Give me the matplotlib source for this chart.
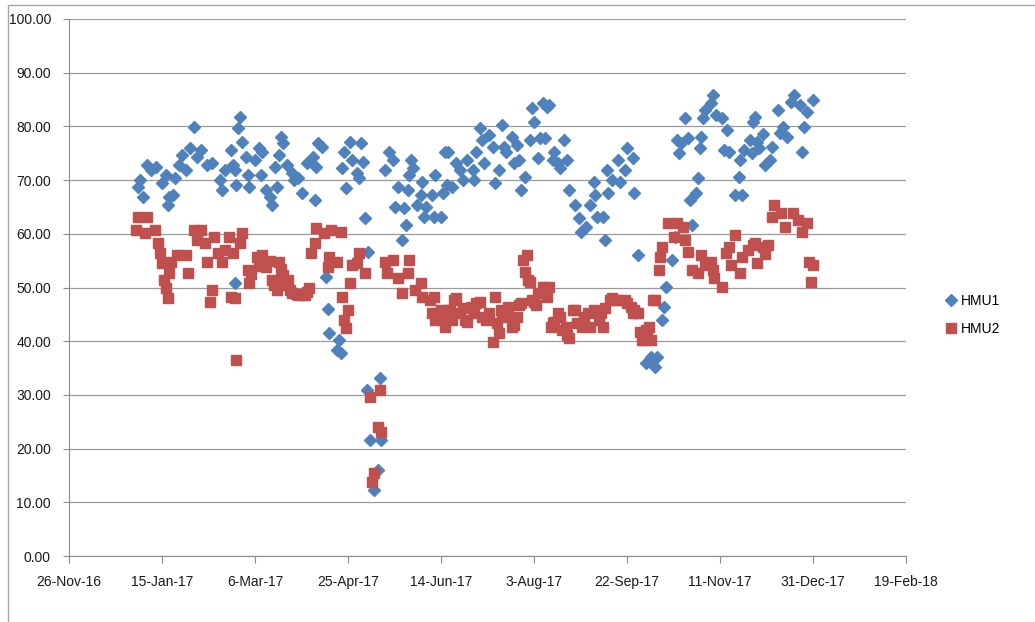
import datetime as dt

import numpy as np
import matplotlib
matplotlib.use('Agg')
import matplotlib.pyplot as plt
import matplotlib.dates as mdates
from matplotlib.patches import Rectangle
from matplotlib.ticker import FuncFormatter, MultipleLocator

# day offsets from 1-Jan-2017 and readings
hmu1_days = [1, 2, 4, 6, 8, 11, 14, 16, 17, 18, 20, 21, 23, 25, 27, 29, 31, 33, 35, 38,
             41, 45, 46, 48, 51, 52, 53, 53, 54, 55, 56, 57, 59, 60, 61, 64, 66, 67, 68, 70,
             72, 73, 75, 76, 77, 78, 79, 81, 84, 85, 87, 89, 92, 95, 96, 97, 98, 100, 102, 103,
             104, 108, 109, 110, 111, 112, 113, 115, 116, 119, 120, 121, 122, 123, 124, 125, 126, 128, 130, 131,
             132, 134, 136, 138, 139, 141, 143, 144, 145, 146, 147, 148, 149, 151, 153, 154, 155, 156, 159, 160,
             161, 164, 165, 166, 167, 168, 170, 172, 174, 176, 178, 181, 182, 183, 185, 186, 187, 190, 192, 193,
             195, 197, 198, 199, 202, 203, 205, 206, 207, 209, 212, 213, 214, 216, 217, 219, 220, 221, 222, 224,
             225, 227, 228, 230, 232, 233, 236, 238, 239, 242, 244, 246, 247, 248, 251, 252, 253, 254, 256, 259,
             260, 263, 264, 267, 268, 270, 274, 277, 279, 280, 283, 284, 285, 288, 290, 291, 292, 293, 295, 297,
             298, 299, 301, 302, 303, 304, 305, 306, 309, 310, 312, 315, 316, 318, 319, 322, 324, 325, 326, 327,
             330, 331, 332, 333, 334, 335, 337, 338, 341, 342, 345, 346, 348, 350, 352, 354, 357, 358, 359, 361,
             364]
hmu1_vals = [68.7, 70.0, 66.9, 72.8, 71.9, 72.4, 69.5, 71.0, 65.4, 66.9, 67.2, 70.4, 72.8, 74.7, 71.9, 76.0, 79.9, 74.3, 75.6, 72.8,
             73.2, 70.0, 68.2, 71.9, 75.6, 72.8, 71.9, 50.8, 69.1, 79.7, 81.8, 77.1, 74.3, 71.0, 68.7, 73.7, 76.0, 71.0, 75.2, 68.2,
             66.9, 65.4, 72.4, 68.7, 74.7, 78.0, 76.9, 72.8, 71.3, 70.0, 70.4, 67.6, 73.2, 74.3, 66.3, 72.4, 76.9, 76.2, 52.0, 46.0,
             41.5, 38.4, 40.2, 37.8, 72.3, 75.2, 68.5, 77.1, 73.7, 71.3, 70.4, 76.9, 73.4, 62.9, 30.9, 56.6, 21.6, 12.3, 16.0, 33.1,
             21.6, 71.9, 75.2, 73.7, 65.0, 68.7, 58.8, 64.8, 61.6, 68.2, 71.0, 73.7, 72.3, 65.4, 67.2, 69.6, 63.1, 65.0, 67.2, 63.1,
             71.0, 63.1, 67.6, 75.2, 69.1, 75.2, 68.7, 73.2, 71.9, 70.0, 73.7, 71.9, 70.0, 75.2, 79.7, 77.5, 73.2, 78.4, 76.2, 69.5,
             71.9, 80.3, 76.2, 75.2, 78.0, 73.2, 76.5, 73.7, 68.2, 70.6, 77.5, 83.4, 80.8, 74.1, 77.8, 84.4, 77.8, 83.6, 84.0, 73.7,
             75.2, 73.2, 72.3, 77.5, 73.7, 68.2, 65.4, 62.9, 60.3, 61.3, 65.4, 69.6, 67.2, 63.1, 63.1, 58.8, 71.9, 67.6, 70.0, 73.7,
             69.6, 71.9, 76.0, 74.1, 67.6, 56.1, 35.9, 37.1, 35.2, 37.1, 43.9, 46.4, 50.1, 55.1, 59.4, 77.5, 75.0, 76.9, 81.6, 77.8,
             66.3, 61.6, 67.6, 70.4, 76.0, 78.0, 81.6, 83.1, 84.4, 85.8, 82.1, 81.6, 75.6, 79.3, 75.2, 67.2, 70.6, 73.7, 67.2, 75.6,
             77.5, 75.0, 80.8, 81.8, 77.1, 76.0, 78.6, 72.8, 73.7, 76.2, 83.1, 78.8, 79.9, 78.0, 84.5, 85.8, 84.0, 75.2, 79.9, 82.7,
             84.9]

hmu2_days = [0, 1, 5, 6, 10, 12, 13, 14, 15, 16, 17, 18, 19, 22, 27, 28, 31, 33, 35, 37,
             38, 40, 41, 42, 44, 46, 48, 50, 51, 52, 53, 54, 56, 57, 60, 61, 65, 68, 70, 73,
             76, 77, 79, 82, 84, 87, 91, 93, 94, 96, 97, 101, 103, 104, 105, 108, 110, 111, 112, 113,
             114, 115, 116, 119, 120, 123, 126, 127, 128, 130, 131, 132, 134, 135, 138, 141, 143, 146, 147, 150,
             153, 154, 158, 159, 161, 163, 164, 165, 166, 169, 171, 174, 177, 180, 182, 185, 188, 190, 192, 193,
             194, 195, 197, 200, 202, 205, 207, 208, 209, 210, 211, 213, 216, 219, 221, 222, 223, 224, 227, 231,
             233, 236, 240, 243, 246, 249, 251, 255, 259, 263, 266, 267, 270, 271, 272, 275, 276, 277, 278, 281,
             282, 283, 286, 289, 291, 294, 295, 297, 299, 302, 304, 306, 309, 310, 311, 315, 317, 319, 320, 322,
             325, 326, 329, 332, 333, 334, 337, 338, 340, 342, 343, 347, 349, 353, 356, 358, 361, 362, 363, 364,
             62, 66, 72, 74, 78, 80, 83, 86, 89, 92, 160, 162, 167, 170, 172, 176, 178, 183, 186, 196,
             199, 203, 206, 212, 214, 215, 220, 225, 228, 229, 232, 235, 237, 241, 244, 247, 250, 252, 256, 258,
             264, 268, 269, 273, 274, 279]
hmu2_vals = [60.7, 63.1, 60.1, 63.1, 60.7, 58.3, 56.4, 54.6, 51.4, 49.9, 48.0, 52.7, 54.7, 56.1, 56.1, 52.7, 60.7, 58.8, 60.7, 58.3,
             54.7, 47.3, 49.5, 59.4, 56.4, 54.7, 57.0, 59.4, 48.2, 56.4, 48.0, 36.5, 58.3, 60.1, 53.3, 50.8, 55.7, 56.1, 53.8, 51.4,
             49.5, 54.7, 52.3, 51.4, 49.0, 48.6, 48.6, 49.9, 56.4, 58.3, 61.1, 60.1, 53.8, 55.7, 60.7, 54.7, 60.3, 48.2, 43.9, 42.5,
             45.8, 50.8, 54.2, 54.6, 56.4, 52.7, 29.6, 13.8, 15.5, 24.0, 30.9, 23.1, 54.7, 52.7, 55.1, 51.8, 49.0, 52.7, 55.1, 49.5,
             50.8, 48.2, 47.7, 45.3, 43.9, 45.3, 45.8, 43.9, 42.6, 45.8, 47.7, 45.3, 43.9, 46.4, 45.3, 47.3, 43.9, 45.3, 39.9, 48.2,
             43.4, 41.5, 45.3, 46.4, 42.6, 44.5, 47.1, 55.1, 52.9, 56.1, 51.4, 47.7, 49.0, 50.1, 48.2, 50.1, 42.6, 43.4, 45.3, 42.6,
             40.6, 45.8, 42.6, 45.3, 45.8, 43.9, 42.6, 47.7, 47.7, 47.7, 46.4, 45.3, 45.3, 41.7, 40.2, 41.5, 42.6, 40.2, 47.7, 53.3,
             55.7, 57.5, 62.0, 59.4, 62.0, 61.3, 58.8, 56.6, 53.3, 52.7, 56.1, 54.2, 54.7, 53.3, 51.8, 50.1, 56.4, 57.5, 54.2, 59.8,
             52.7, 55.7, 57.0, 57.9, 58.3, 54.6, 57.5, 56.2, 57.9, 63.1, 65.4, 63.9, 61.3, 63.9, 62.6, 60.3, 62.0, 54.7, 51.0, 54.2,
             52.5, 54.0, 55.0, 50.5, 53.5, 50.5, 49.5, 48.8, 48.6, 49.2, 48.2, 45.3, 45.8, 43.9, 48.0, 46.2, 43.6, 47.1, 44.5, 45.8,
             44.5, 43.0, 46.7, 51.0, 47.3, 46.7, 49.2, 43.6, 44.5, 42.1, 41.2, 45.8, 43.4, 44.5, 42.6, 45.4, 45.3, 46.2, 48.0, 47.7,
             47.1, 45.8, 45.3, 40.2, 42.1, 47.7]

START = dt.date(2017, 1, 1)
X_MIN = dt.date(2016, 11, 26)
X_MAX = dt.date(2018, 2, 19)


def to_dates(days):
    return [START + dt.timedelta(days=int(d)) for d in days]


def main():
    plt.rcParams['font.family'] = ['Liberation Sans', 'DejaVu Sans']
    fig = plt.figure(figsize=(10.35, 6.22), dpi=100)
    ax = fig.add_axes([69 / 1035, 1 - 556 / 622, (906 - 69) / 1035, (556 - 19) / 622])

    # outer chart border
    fig.patches.append(Rectangle((8 / 1035, -0.1), 1.2, 1 - 5 / 622 + 0.1,
                                 transform=fig.transFigure, fill=False,
                                 edgecolor='#a6a6a6', lw=1.0))

    ax.plot(to_dates(hmu1_days), hmu1_vals, linestyle='none', marker='D', ms=5.9,
            color='#4f81bd', mec='#4f81bd', label='HMU1', zorder=3)
    ax.plot(to_dates(hmu2_days), hmu2_vals, linestyle='none', marker='s', ms=7.9,
            color='#c0504d', mec='#c0504d', label='HMU2', zorder=3)

    ax.set_ylim(0, 100)
    ax.yaxis.set_major_locator(MultipleLocator(10))
    ax.yaxis.set_major_formatter(FuncFormatter(lambda v, p: f"{v:.2f}"))
    ax.set_xlim(mdates.date2num(X_MIN), mdates.date2num(X_MAX))
    ticks = [X_MIN + dt.timedelta(days=50 * i) for i in range(10)]
    ax.set_xticks(mdates.date2num(ticks))
    ax.set_xticklabels([f"{d.day}-{d.strftime('%b-%y')}" for d in ticks])

    ax.grid(axis='y', color='#9a9a9a', lw=0.9)
    ax.set_axisbelow(True)
    for side in ('top', 'right'):
        ax.spines[side].set_visible(False)
    for side in ('left', 'bottom'):
        ax.spines[side].set_color('#8c8c8c')
    ax.tick_params(axis='y', length=4, color='#8c8c8c', pad=9, labelsize=10, labelcolor='#1a1a1a')
    ax.tick_params(axis='x', length=5, color='#8c8c8c', pad=9, labelsize=10, labelcolor='#1a1a1a')

    fig.legend(loc='center left', bbox_to_anchor=(933 / 1035, 1 - 315 / 622),
               frameon=False, numpoints=1, handlelength=0.8, handletextpad=0.3,
               labelspacing=1.0, fontsize=10)

    fig.savefig('out.png', dpi=100)


if __name__ == '__main__':
    main()
